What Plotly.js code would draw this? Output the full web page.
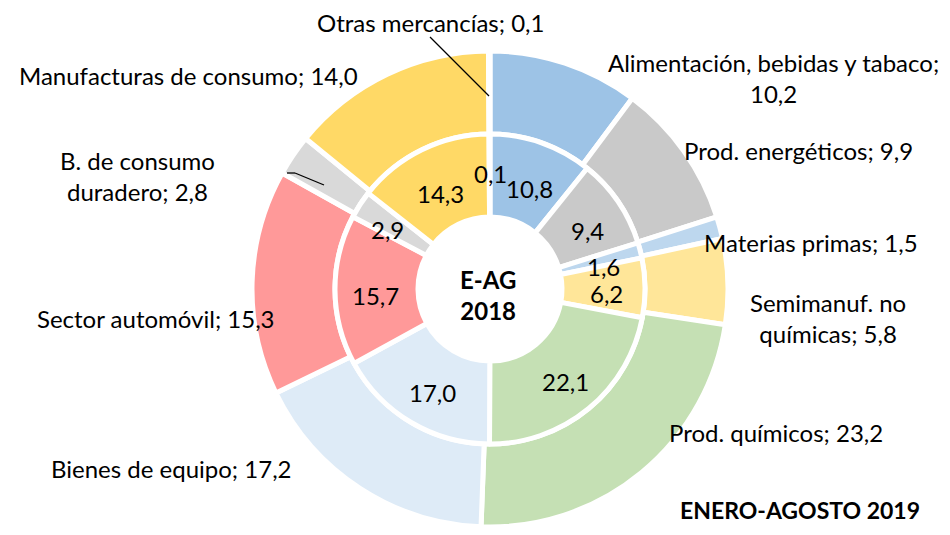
<!DOCTYPE html>
<html>
<head>
<meta charset="utf-8">
<script src="https://cdn.plot.ly/plotly-3.0.1.min.js"></script>
<style>html,body{margin:0;padding:0;background:#fff;}#chart{width:950px;height:535px;}</style>
</head>
<body>
<div id="chart"></div>
<script>
// ---- data ----
const categories = ['Alimentación, bebidas y tabaco','Prod. energéticos','Materias primas','Semimanuf. no químicas','Prod. químicos','Bienes de equipo','Sector automóvil','B. de consumo duradero','Manufacturas de consumo','Otras mercancías'];
const displayNames = ['Alimentación, bebidas y tabaco','Prod. energéticos','Materias primas','Semimanuf. no<br>químicas','Prod. químicos','Bienes de equipo','Sector automóvil','B. de consumo<br>duradero','Manufacturas de consumo','Otras mercancías'];
const breakBeforeValue = [true,false,false,false,false,false,false,false,false,false];
const values2019 = [10.2,9.9,1.5,5.8,23.2,17.2,15.3,2.8,14.0,0.1];
const values2018 = [10.8,9.4,1.6,6.2,22.1,17.0,15.7,2.9,14.3,0.1];
const centerLabel = 'E-AG<br>2018';
const periodLabel = 'ENERO-AGOSTO 2019';

// ---- styles / layout ----
const colors = ['#9DC3E6','#C9C9C9','#BDD7EE','#FFE699','#C5E0B4','#DEEBF7','#FF9999','#D9D9D9','#FFD966','#F4B183'];
const W = 950, H = 535;
const cx = 490, cy = 289;
const rOuter = 238, rMid = 155, rHole = 72;
// label positions (pixels)
const outerPos = [[773,78],[798,150],[811,242],[828,318],[776,432],[171,468],[156,318],[137,176],[188,75],[430,22]];
const innerPos = [[529,188],[587,230],[603,266],[606,293],[565,381],[432,392],[375,295],[387,229],[440,193],[490,173]];
const FONT = 'Lato, "Open Sans", sans-serif';
const FS = 24;

const px = x => x / W;
const py = y => 1 - y / H;
const fmt = v => v.toFixed(1).replace('.', ',');

const traces = [
  {
    type: 'pie', values: values2019, labels: categories, sort: false, direction: 'clockwise', rotation: 0,
    hole: rMid / rOuter, textinfo: 'none', hoverinfo: 'label+value',
    marker: {colors: colors, line: {color: '#ffffff', width: 5}},
    domain: {x: [px(cx - rOuter), px(cx + rOuter)], y: [py(cy + rOuter), py(cy - rOuter)]},
    showlegend: false
  },
  {
    type: 'pie', values: values2018, labels: categories, sort: false, direction: 'clockwise', rotation: 0,
    hole: rHole / rMid, textinfo: 'none', hoverinfo: 'label+value',
    marker: {colors: colors, line: {color: '#ffffff', width: 5}},
    domain: {x: [px(cx - rMid), px(cx + rMid)], y: [py(cy + rMid), py(cy - rMid)]},
    showlegend: false
  }
];

const annotations = [];
categories.forEach((c, i) => {
  annotations.push({
    xref: 'paper', yref: 'paper', x: px(outerPos[i][0]), y: py(outerPos[i][1]),
    xanchor: 'center', yanchor: 'middle', showarrow: false, align: 'center',
    text: displayNames[i] + ';' + (breakBeforeValue[i] ? '<br>' : ' ') + fmt(values2019[i]),
    font: {family: FONT, size: FS, color: '#000'}
  });
  annotations.push({
    xref: 'paper', yref: 'paper', x: px(innerPos[i][0]), y: py(innerPos[i][1]),
    xanchor: 'center', yanchor: 'middle', showarrow: false,
    text: fmt(values2018[i]),
    font: {family: FONT, size: FS, color: '#000'}
  });
});
annotations.push({
  xref: 'paper', yref: 'paper', x: px(488), y: py(295), xanchor: 'center', yanchor: 'middle',
  showarrow: false, align: 'center', text: '<b>' + centerLabel + '</b>',
  font: {family: FONT, size: FS, color: '#000'}
});
annotations.push({
  xref: 'paper', yref: 'paper', x: px(922), y: py(510), xanchor: 'right', yanchor: 'middle',
  showarrow: false, text: '<b>' + periodLabel + '</b>',
  font: {family: FONT, size: 23, color: '#000'}
});

const shapes = [
  {type: 'line', xref: 'paper', yref: 'paper', x0: px(430), y0: py(37), x1: px(489), y1: py(96), line: {color: '#000', width: 1.3}},
  {type: 'line', xref: 'paper', yref: 'paper', x0: px(287), y0: py(173), x1: px(295), y1: py(173), line: {color: '#000', width: 1.3}},
  {type: 'line', xref: 'paper', yref: 'paper', x0: px(295), y0: py(173), x1: px(324), y1: py(185), line: {color: '#000', width: 1.3}}
];

const layout = {
  width: W, height: H, margin: {l: 0, r: 0, t: 0, b: 0},
  paper_bgcolor: '#ffffff', plot_bgcolor: '#ffffff',
  showlegend: false, annotations: annotations, shapes: shapes,
  font: {family: FONT, size: FS, color: '#000'}
};

Plotly.newPlot('chart', traces, layout, {displayModeBar: false, staticPlot: true});
</script>
</body>
</html>
